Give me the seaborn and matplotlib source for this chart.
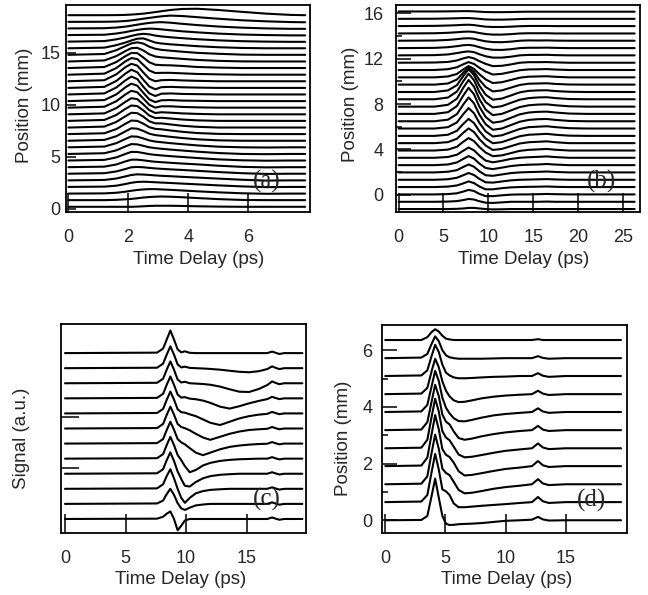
import numpy as np
import pandas as pd
import matplotlib.pyplot as plt
import seaborn as sns
from matplotlib.ticker import FixedLocator

# ---------------------------------------------------------
# (a) waterfall: time delay 0-8 ps, position 0-19 mm
# ---------------------------------------------------------
a_times = [0, 1.2, 1.6, 1.9, 2.1, 2.3, 2.5, 2.7, 2.9, 3.1, 3.4, 3.8, 4.3, 5.0, 5.8, 6.6, 7.4, 7.9]
a_positions = [0.20, 0.84, 1.47, 2.11, 2.74, 3.38, 4.01, 4.65, 5.28, 5.92,
               6.55, 7.19, 7.82, 8.46, 9.09, 9.73, 10.36, 11.00, 11.63, 12.27,
               12.90, 13.54, 14.17, 14.81, 15.44, 16.08, 16.71, 17.35, 17.98, 18.62]
a_traces = [
    [0, 0, 0, 0, 0, 0.02, 0.05, 0.08, 0.1, 0.1, 0.1, 0.08, 0.05, 0.02, 0, 0, 0, 0],
    [0, 0, 0.03, 0.08, 0.12, 0.18, 0.25, 0.3, 0.33, 0.35, 0.33, 0.28, 0.2, 0.1, 0.02, 0, 0, 0],
    [0, 0.02, 0.08, 0.18, 0.27, 0.35, 0.4, 0.43, 0.43, 0.4, 0.36, 0.3, 0.22, 0.12, 0.03, -0.02, 0, 0],
    [0, 0.03, 0.12, 0.28, 0.4, 0.48, 0.5, 0.48, 0.45, 0.42, 0.38, 0.32, 0.25, 0.15, 0.05, -0.02, 0, 0],
    [0, 0.04, 0.18, 0.38, 0.52, 0.58, 0.56, 0.52, 0.48, 0.44, 0.4, 0.34, 0.27, 0.17, 0.06, -0.02, 0, 0],
    [0, 0.05, 0.22, 0.45, 0.62, 0.65, 0.62, 0.56, 0.51, 0.47, 0.42, 0.36, 0.28, 0.16, 0.05, -0.02, 0, 0],
    [0, 0.05, 0.26, 0.55, 0.72, 0.72, 0.66, 0.58, 0.52, 0.48, 0.42, 0.35, 0.27, 0.14, 0.03, -0.02, 0, 0],
    [0, 0.06, 0.3, 0.63, 0.83, 0.82, 0.72, 0.61, 0.54, 0.49, 0.42, 0.34, 0.24, 0.11, 0.02, -0.02, 0, 0],
    [0, 0.07, 0.35, 0.72, 0.95, 0.92, 0.78, 0.64, 0.56, 0.5, 0.42, 0.33, 0.22, 0.09, 0, -0.02, 0, 0],
    [0, 0.07, 0.4, 0.8, 1.05, 1.02, 0.85, 0.66, 0.55, 0.49, 0.4, 0.3, 0.18, 0.06, 0, -0.02, 0, 0],
    [0, 0.08, 0.44, 0.9, 1.2, 1.16, 0.94, 0.68, 0.54, 0.48, 0.38, 0.26, 0.14, 0.04, 0, 0, 0, 0],
    [0, 0.08, 0.48, 0.99, 1.3, 1.27, 1.0, 0.66, 0.5, 0.46, 0.35, 0.22, 0.1, 0.02, 0, 0, 0, 0],
    [0, 0.09, 0.54, 1.08, 1.42, 1.38, 1.05, 0.6, 0.4, 0.4, 0.3, 0.17, 0.07, 0, 0, 0, 0, 0],
    [0, 0.09, 0.57, 1.15, 1.48, 1.42, 1.01, 0.51, 0.27, 0.3, 0.23, 0.13, 0.05, 0, 0, 0, 0, 0],
    [0, 0.09, 0.6, 1.2, 1.55, 1.46, 0.95, 0.4, 0.13, 0.2, 0.16, 0.09, 0.04, 0, 0, 0, 0, 0],
    [0, 0.09, 0.62, 1.27, 1.62, 1.48, 0.88, 0.27, 0.0, 0.13, 0.13, 0.07, 0.03, 0, 0, 0, 0, 0],
    [0, 0.1, 0.65, 1.32, 1.68, 1.48, 0.8, 0.16, -0.1, 0.08, 0.1, 0.05, 0.03, 0, 0, 0, 0, 0],
    [0, 0.1, 0.67, 1.35, 1.72, 1.48, 0.74, 0.1, -0.15, 0.07, 0.1, 0.05, 0.03, 0, 0, 0, 0, 0],
    [0, 0.1, 0.67, 1.37, 1.75, 1.5, 0.78, 0.13, -0.13, 0.07, 0.1, 0.06, 0.03, 0, 0, 0, 0, 0],
    [0, 0.1, 0.67, 1.35, 1.68, 1.5, 0.84, 0.24, 0.0, 0.1, 0.13, 0.08, 0.04, 0, 0, 0, 0, 0],
    [0, 0.1, 0.64, 1.28, 1.6, 1.5, 0.94, 0.4, 0.16, 0.18, 0.18, 0.13, 0.07, 0.03, 0, 0, 0, 0],
    [0, 0.1, 0.58, 1.14, 1.45, 1.43, 1.01, 0.55, 0.32, 0.28, 0.26, 0.2, 0.1, 0.04, 0, 0, 0, 0],
    [0, 0.1, 0.52, 1.0, 1.28, 1.31, 1.06, 0.69, 0.48, 0.4, 0.34, 0.25, 0.15, 0.06, 0.01, 0, 0, 0],
    [0, 0.08, 0.45, 0.84, 1.1, 1.2, 1.08, 0.78, 0.58, 0.48, 0.4, 0.3, 0.19, 0.1, 0.02, 0, 0, 0],
    [0, 0.06, 0.3, 0.55, 0.75, 0.92, 0.95, 0.75, 0.55, 0.46, 0.38, 0.3, 0.2, 0.1, 0.03, 0, 0, 0],
    [0, 0.05, 0.22, 0.4, 0.55, 0.68, 0.75, 0.7, 0.58, 0.5, 0.42, 0.33, 0.23, 0.12, 0.04, 0, -0.02, -0.02],
    [0, 0.03, 0.15, 0.28, 0.4, 0.5, 0.58, 0.62, 0.6, 0.55, 0.46, 0.36, 0.26, 0.14, 0.05, 0, -0.03, -0.03],
    [0, 0.02, 0.08, 0.17, 0.26, 0.36, 0.45, 0.53, 0.58, 0.6, 0.55, 0.44, 0.32, 0.18, 0.07, 0.0, -0.04, -0.04],
    [0, 0.01, 0.03, 0.08, 0.14, 0.22, 0.3, 0.38, 0.46, 0.53, 0.6, 0.56, 0.45, 0.3, 0.15, 0.05, -0.02, -0.04],
    [0, 0, 0.01, 0.03, 0.06, 0.1, 0.15, 0.22, 0.3, 0.38, 0.5, 0.6, 0.62, 0.5, 0.32, 0.15, 0.03, 0],
]

# ---------------------------------------------------------
# (b) waterfall: time delay 0-26 ps, position -1.3-16 mm
# ---------------------------------------------------------
b_times = [0, 4, 5.5, 6.5, 7.2, 7.8, 8.4, 9.0, 9.7, 10.5, 11.5, 12.5, 13.5, 14.5, 15.5, 16.5, 17.5, 19, 21, 23, 26.3]
b_positions = [-1.26, -0.62, 0.03, 0.68, 1.32, 1.97, 2.61, 3.26, 3.90, 4.55,
               5.19, 5.84, 6.48, 7.13, 7.77, 8.42, 9.06, 9.71, 10.35, 11.00,
               11.64, 12.29, 12.93, 13.58, 14.22, 14.87, 15.51, 16.16]
b_traces = [
    [0, 0, 0, 0.02, 0.05, 0.1, 0.1, 0.05, 0, -0.03, -0.02, 0, 0, 0, 0, 0, 0, 0, 0, 0, 0],
    [0, 0, 0.02, 0.06, 0.15, 0.25, 0.2, 0.05, -0.08, -0.1, -0.05, 0, 0, 0, 0, 0.02, 0, 0, 0, 0, 0],
    [0, 0, 0.03, 0.1, 0.25, 0.4, 0.3, 0.05, -0.15, -0.15, -0.08, -0.02, 0, 0, 0.02, 0.04, 0.02, 0, 0, 0, 0],
    [0, 0, 0.04, 0.14, 0.32, 0.5, 0.35, 0.05, -0.2, -0.2, -0.1, -0.03, 0, 0.02, 0.03, 0.05, 0.02, 0, 0, 0, 0],
    [0, 0, 0.05, 0.18, 0.4, 0.6, 0.42, 0.08, -0.22, -0.25, -0.15, -0.05, 0, 0.02, 0.04, 0.06, 0.03, 0, 0, 0, 0],
    [0, 0, 0.06, 0.2, 0.48, 0.7, 0.5, 0.1, -0.25, -0.3, -0.18, -0.06, 0, 0.03, 0.05, 0.08, 0.04, 0, 0, 0, 0],
    [0, 0, 0.06, 0.24, 0.55, 0.8, 0.58, 0.14, -0.25, -0.35, -0.22, -0.08, 0, 0.04, 0.06, 0.1, 0.05, 0, 0, 0, 0],
    [0, 0, 0.07, 0.27, 0.62, 0.9, 0.66, 0.2, -0.25, -0.4, -0.27, -0.1, 0, 0.05, 0.08, 0.12, 0.06, 0, 0, 0, 0],
    [0, 0, 0.08, 0.33, 0.77, 1.1, 0.83, 0.31, -0.18, -0.5, -0.43, -0.23, -0.03, 0.06, 0.1, 0.14, 0.07, 0, 0, 0, 0],
    [0, 0, 0.09, 0.39, 0.91, 1.3, 0.98, 0.36, -0.21, -0.6, -0.51, -0.27, -0.03, 0.08, 0.12, 0.16, 0.08, 0, 0, 0, 0],
    [0, 0, 0.1, 0.45, 1.05, 1.5, 1.13, 0.42, -0.23, -0.65, -0.55, -0.29, -0.03, 0.1, 0.14, 0.18, 0.1, 0.02, 0, 0, 0],
    [0, 0, 0.12, 0.54, 1.26, 1.8, 1.35, 0.5, -0.25, -0.7, -0.6, -0.32, -0.04, 0.12, 0.16, 0.2, 0.12, 0.03, 0, 0, 0],
    [0, 0, 0.14, 0.63, 1.47, 2.1, 1.58, 0.59, -0.26, -0.75, -0.64, -0.34, -0.04, 0.12, 0.18, 0.2, 0.12, 0.03, 0, 0, 0],
    [0, 0, 0.15, 0.69, 1.61, 2.3, 1.73, 0.64, -0.27, -0.78, -0.66, -0.35, -0.04, 0.12, 0.18, 0.2, 0.12, 0.03, 0, 0, 0],
    [0, 0, 0.16, 0.7, 1.65, 2.35, 1.76, 0.66, -0.26, -0.75, -0.64, -0.34, -0.04, 0.12, 0.18, 0.2, 0.12, 0.03, 0, 0, 0],
    [0, 0, 0.15, 0.68, 1.58, 2.25, 1.69, 0.63, -0.25, -0.72, -0.61, -0.32, -0.04, 0.1, 0.16, 0.18, 0.1, 0.02, 0, 0, 0],
    [0, 0, 0.14, 0.6, 1.4, 2.0, 1.5, 0.56, -0.24, -0.68, -0.58, -0.31, -0.03, 0.1, 0.14, 0.15, 0.08, 0.02, 0, 0, 0],
    [0, 0, 0.1, 0.45, 1.05, 1.5, 1.13, 0.42, -0.21, -0.6, -0.51, -0.27, -0.03, 0.08, 0.1, 0.12, 0.06, 0.01, 0, 0, 0],
    [0, 0, 0.08, 0.3, 0.7, 1.0, 0.75, 0.28, -0.18, -0.5, -0.43, -0.23, -0.03, 0.06, 0.08, 0.1, 0.05, 0, 0, 0, 0],
    [0, 0, 0.07, 0.24, 0.5, 0.7, 0.53, 0.2, -0.14, -0.4, -0.34, -0.18, -0.02, 0.05, 0.06, 0.08, 0.04, 0, 0, 0, 0],
    [0, 0.02, 0.07, 0.2, 0.38, 0.5, 0.38, 0.14, -0.1, -0.3, -0.27, -0.15, 0, 0.05, 0.05, 0.06, 0.03, 0, 0, 0, 0],
    [0, 0.02, 0.08, 0.2, 0.3, 0.35, 0.28, 0.1, -0.08, -0.2, -0.2, -0.12, 0, 0.04, 0.04, 0.05, 0.02, 0, 0, 0, 0],
    [0, 0.02, 0.08, 0.17, 0.25, 0.28, 0.22, 0.08, -0.06, -0.15, -0.16, -0.1, 0, 0.03, 0.03, 0.04, 0.02, 0, 0, 0, 0],
    [0, 0.02, 0.07, 0.14, 0.2, 0.22, 0.18, 0.06, -0.05, -0.12, -0.13, -0.08, 0, 0.03, 0.02, 0.03, 0.01, 0, 0, 0, 0],
    [0, 0.02, 0.06, 0.11, 0.15, 0.17, 0.13, 0.04, -0.05, -0.1, -0.1, -0.06, 0, 0.02, 0.02, 0.02, 0, 0, 0, 0, 0],
    [0, 0.02, 0.05, 0.08, 0.11, 0.12, 0.09, 0.02, -0.05, -0.08, -0.08, -0.05, -0.01, 0.01, 0.01, 0.01, 0, 0, 0, 0, 0],
    [0, 0.01, 0.03, 0.05, 0.07, 0.07, 0.04, 0, -0.05, -0.07, -0.07, -0.05, -0.02, 0, 0, 0, 0, 0, 0, 0, 0],
    [0, 0, 0.01, 0.02, 0.03, 0.03, 0.01, -0.02, -0.05, -0.06, -0.06, -0.05, -0.03, -0.02, -0.02, -0.02, -0.02, -0.02, -0.02, -0.02, -0.02],
]

# ---------------------------------------------------------
# (c) signal traces (a.u.), 12 traces
# ---------------------------------------------------------
c_times = [0, 7.6, 8.1, 8.4, 8.7, 9.0, 9.3, 9.6, 9.9, 10.3, 10.8, 11.4, 12.0, 12.8, 13.6, 14.4,
           15.2, 16.0, 16.7, 17.1, 17.4, 17.7, 18.1, 19.6]
c_positions = [0, 1, 2, 3, 4, 5, 6, 7, 8, 9, 10, 11]
c_traces = [
    [0, 0.02, 0.15, 0.35, 0.5, 0.0, -0.75, -0.45, -0.1, 0, 0, 0, 0, 0, 0, 0, 0, 0, 0, 0.1, 0.02, -0.05, 0, 0],
    [0, 0.03, 0.22, 0.65, 1.0, 0.6, 0.05, -0.3, -0.4, -0.25, -0.1, -0.04, 0, 0, 0, 0, 0, 0, 0, 0.1, 0.02, -0.05, 0, 0],
    [0, 0.03, 0.3, 0.85, 1.3, 0.7, 0.0, -0.6, -0.93, -0.6, -0.3, -0.15, -0.07, -0.03, 0, 0, 0, 0, 0, 0.1, 0.02, -0.05, 0, 0],
    [0, 0.03, 0.3, 0.9, 1.42, 0.85, 0.15, -0.35, -0.8, -0.85, -0.55, -0.3, -0.16, -0.07, -0.03, 0, 0, 0, 0, 0.1, 0.02, -0.05, 0, 0],
    [0, 0.03, 0.3, 0.9, 1.45, 0.9, 0.25, -0.1, -0.5, -0.9, -0.75, -0.45, -0.28, -0.15, -0.08, -0.04, -0.02, 0, 0, 0.1, 0.02, -0.05, 0, 0],
    [0, 0.03, 0.3, 0.9, 1.45, 0.92, 0.3, 0.08, -0.05, -0.3, -0.6, -0.77, -0.6, -0.38, -0.22, -0.13, -0.07, -0.03, -0.01, 0.1, 0.02, -0.05, 0, 0],
    [0, 0.03, 0.3, 0.9, 1.45, 0.92, 0.3, 0.1, 0.02, -0.12, -0.35, -0.6, -0.75, -0.55, -0.35, -0.2, -0.1, -0.05, -0.02, 0.1, 0.02, -0.05, 0, 0],
    [0, 0.03, 0.3, 0.9, 1.45, 0.92, 0.28, 0.08, 0.05, -0.06, -0.18, -0.4, -0.62, -0.77, -0.55, -0.33, -0.18, -0.08, -0.03, 0.1, 0.02, -0.05, 0, 0],
    [0, 0.03, 0.3, 0.9, 1.45, 0.9, 0.25, 0.05, 0.08, -0.02, -0.06, -0.15, -0.3, -0.55, -0.68, -0.52, -0.33, -0.17, -0.05, 0.1, 0.02, -0.05, 0, 0],
    [0, 0.03, 0.3, 0.9, 1.45, 0.9, 0.25, 0.05, 0.1, 0.0, -0.02, -0.05, -0.1, -0.22, -0.4, -0.56, -0.58, -0.38, -0.12, 0.12, 0.02, -0.06, 0, 0],
    [0, 0.03, 0.3, 0.9, 1.45, 0.9, 0.25, 0.05, 0.1, 0.02, 0, -0.02, -0.05, -0.1, -0.17, -0.24, -0.27, -0.2, -0.06, 0.12, 0.02, -0.06, 0, 0],
    [0, 0.03, 0.3, 0.9, 1.5, 0.9, 0.25, 0.05, 0.12, 0.02, 0, 0, 0, 0, 0, 0, 0, 0, 0, 0.1, 0.02, -0.06, 0, 0],
]

# ---------------------------------------------------------
# (d) waterfall: time delay 0-20 ps, position 0-6.4 mm
# ---------------------------------------------------------
d_times = [0, 3.0, 3.5, 3.85, 4.15, 4.45, 4.75, 5.05, 5.35, 5.7, 6.1, 6.6, 7.2, 8.0, 9.0, 10.0,
           11.2, 12.2, 12.7, 13.1, 13.6, 15, 17, 19.6]
d_positions = [0.00, 0.64, 1.27, 1.91, 2.54, 3.18, 3.82, 4.45, 5.09, 5.72, 6.36]
d_traces = [
    [0, 0.01, 0.15, 0.85, 1.47, 0.8, 0.15, -0.12, -0.17, -0.16, -0.14, -0.13, -0.12, -0.1, -0.06, -0.02, 0, 0.02, 0.12, 0.03, -0.01, 0, 0, 0],
    [0, 0.02, 0.25, 1.05, 1.7, 1.15, 0.45, 0.38, 0.25, -0.05, -0.18, -0.18, -0.16, -0.13, -0.1, -0.07, -0.03, 0, 0.18, 0.03, -0.03, 0, 0, 0],
    [0, 0.02, 0.28, 1.1, 1.75, 1.25, 0.55, 0.4, 0.32, 0.08, -0.2, -0.32, -0.3, -0.24, -0.16, -0.1, -0.05, 0, 0.18, 0.03, -0.03, 0, 0, 0],
    [0, 0.02, 0.3, 1.12, 1.8, 1.3, 0.6, 0.4, 0.32, 0.12, -0.18, -0.33, -0.31, -0.25, -0.17, -0.1, -0.05, 0, 0.18, 0.03, -0.03, 0, 0, 0],
    [0, 0.02, 0.3, 1.1, 1.75, 1.3, 0.6, 0.38, 0.28, 0.05, -0.22, -0.32, -0.3, -0.24, -0.16, -0.09, -0.04, 0, 0.17, 0.03, -0.03, 0, 0, 0],
    [0, 0.02, 0.28, 1.0, 1.6, 1.2, 0.55, 0.3, 0.2, -0.05, -0.28, -0.34, -0.3, -0.22, -0.14, -0.08, -0.03, 0, 0.15, 0.02, -0.03, 0, 0, 0],
    [0, 0.02, 0.25, 0.9, 1.45, 1.1, 0.5, 0.15, -0.05, -0.22, -0.32, -0.33, -0.28, -0.2, -0.12, -0.07, -0.03, 0, 0.13, 0.02, -0.03, 0, 0, 0],
    [0, 0.02, 0.22, 0.8, 1.25, 0.95, 0.45, 0.12, -0.08, -0.22, -0.28, -0.27, -0.22, -0.15, -0.09, -0.05, -0.02, 0, 0.12, 0.02, -0.03, 0, 0, 0],
    [0, 0.02, 0.2, 0.7, 1.1, 0.85, 0.4, 0.12, 0.02, -0.05, -0.08, -0.08, -0.07, -0.05, -0.03, -0.02, 0, 0, 0.1, 0.01, -0.03, 0, 0, 0],
    [0, 0.02, 0.15, 0.5, 0.77, 0.6, 0.28, 0.1, 0.03, 0.0, -0.02, -0.02, -0.02, -0.02, -0.01, 0, 0, 0, 0.07, 0.01, -0.02, 0, 0, 0],
    [0, 0.0, 0.1, 0.28, 0.38, 0.3, 0.15, 0.05, 0.02, 0, 0, 0, 0, 0, 0, 0, 0, 0, 0.03, 0, 0, 0, 0, 0],
]

panel_letters = ['(a)', '(b)', '(c)', '(d)']


def to_long(times, positions, traces):
    rows = []
    for k, (pos, dev) in enumerate(zip(positions, traces)):
        for t, d in zip(times, dev):
            rows.append({'trace': k, 'time': t, 'value': pos + d})
    return pd.DataFrame(rows)


sns.set_style("ticks")
plt.rcParams['font.family'] = ['Liberation Sans', 'DejaVu Sans']
plt.rcParams['font.size'] = 13

fig = plt.figure(figsize=(6.48, 5.95), dpi=100)
W, H = 648, 595


def px_axes(left, top, right, bottom):
    return fig.add_axes([left / W, 1 - bottom / H, (right - left) / W, (bottom - top) / H])


ax_a = px_axes(66, 5, 310, 212)
ax_b = px_axes(396, 5, 640, 212)
ax_c = px_axes(61, 324, 306, 533)
ax_d = px_axes(382, 325, 627, 533)

panels = [
    (ax_a, to_long(a_times, a_positions, a_traces)),
    (ax_b, to_long(b_times, b_positions, b_traces)),
    (ax_c, to_long(c_times, c_positions, c_traces)),
    (ax_d, to_long(d_times, d_positions, d_traces)),
]
for ax, df in panels:
    sns.lineplot(data=df, x='time', y='value', units='trace', estimator=None,
                 sort=False, color='black', linewidth=1.5, ax=ax)
    for s in ax.spines.values():
        s.set_linewidth(1.3)
        s.set_color('black')
    ax.tick_params(axis='x', direction='in', length=14, width=1.3, pad=12, labelsize=13)
    ax.tick_params(axis='y', direction='in', width=1.3, labelsize=13)
    ax.xaxis.label.set_va('top')
    ax.yaxis.label.set_va('center')

# panel (a)
ax_a.set_xlim(-0.08, 8.06)
ax_a.set_ylim(-0.3, 19.6)
ax_a.set_xticks([0, 2, 4, 6])
ax_a.set_yticks([0, 5, 10, 15])
ax_a.tick_params(axis='y', length=7, pad=4)
ax_a.set_xlabel('Time Delay (ps)', fontsize=13.5)
ax_a.set_ylabel('Position (mm)', fontsize=13.5)
ax_a.xaxis.set_label_coords(0.545, -0.186)
ax_a.yaxis.set_label_coords(-0.172, 0.517)

# panel (b)
ax_b.set_xlim(-0.29, 26.9)
ax_b.set_ylim(-1.52, 16.73)
ax_b.set_xticks([0, 5, 10, 15, 20, 25])
ax_b.set_yticks([0, 4, 8, 12, 16])
ax_b.yaxis.set_minor_locator(FixedLocator([2, 6, 10, 14]))
ax_b.tick_params(axis='y', which='major', length=11, pad=9)
ax_b.tick_params(axis='y', which='minor', direction='in', length=4, width=1.3)
ax_b.set_xlabel('Time Delay (ps)', fontsize=13.5)
ax_b.set_ylabel('Position (mm)', fontsize=13.5)
ax_b.xaxis.set_label_coords(0.522, -0.186)
ax_b.yaxis.set_label_coords(-0.187, 0.522)

# panel (c)
ax_c.set_xlim(-0.33, 19.9)
ax_c.set_ylim(-0.93, 12.93)
ax_c.set_xticks([0, 5, 10, 15])
ax_c.set_yticks([3.38, 6.73])
ax_c.set_yticklabels(['', ''])
ax_c.tick_params(axis='y', length=13)
ax_c.set_xlabel('Time Delay (ps)', fontsize=13.5)
ax_c.set_ylabel('Signal (a.u.)', fontsize=13.5)
ax_c.xaxis.set_label_coords(0.488, -0.184)
ax_c.yaxis.set_label_coords(-0.162, 0.455)

# panel (d)
ax_d.set_xlim(-0.27, 20.1)
ax_d.set_ylim(-0.45, 6.89)
ax_d.set_xticks([0, 5, 10, 15])
ax_d.set_yticks([0, 2, 4, 6])
ax_d.yaxis.set_minor_locator(FixedLocator([1, 3, 5]))
ax_d.tick_params(axis='y', which='major', length=11, pad=7)
ax_d.tick_params(axis='y', which='minor', direction='in', length=4, width=1.3)
ax_d.set_xlabel('Time Delay (ps)', fontsize=13.5)
ax_d.set_ylabel('Position (mm)', fontsize=13.5)
ax_d.xaxis.set_label_coords(0.508, -0.185)
ax_d.yaxis.set_label_coords(-0.158, 0.455)

# panel letters
letter_pos = [(ax_a, 6.61, 2.62), (ax_b, 22.65, 1.17), (ax_c, 16.7, 1.28), (ax_d, 17.16, 0.71)]
for (ax, x, y), lab in zip(letter_pos, panel_letters):
    ax.text(x, y, lab, ha='center', va='center', fontsize=18,
            family=['Liberation Serif', 'DejaVu Serif'])

fig.savefig('out.png', dpi=100)
